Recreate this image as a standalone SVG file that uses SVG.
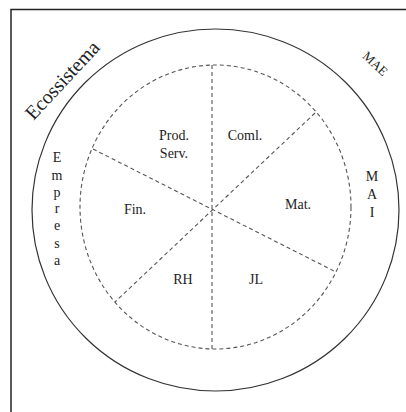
<svg xmlns="http://www.w3.org/2000/svg" width="406" height="412" viewBox="0 0 406 412">
<style>
text{font-family:'Liberation Serif','Times New Roman','DejaVu Serif',serif;fill:#222;}
.lbl{font-size:14px;text-anchor:middle;}
.dash{fill:none;stroke:#555;stroke-width:1.1;stroke-dasharray:4 3;}
</style>
<rect x="0" y="0" width="406" height="412" fill="#fff"/>
<path d="M11 412 V9.5 H406" fill="none" stroke="#222" stroke-width="1.5"/>
<g id="ecossistema">
<ellipse cx="215.5" cy="210" rx="183.5" ry="181" fill="none" stroke="#333" stroke-width="1.2"/>
<text x="62" y="87" font-size="20" text-anchor="middle" transform="rotate(-47 62 80)">Ecossistema</text>
</g>
<g id="empresa">
<ellipse class="dash" cx="215.5" cy="207" rx="135.5" ry="142"/>
<text class="lbl" x="57" y="162">E</text>
<text class="lbl" x="57" y="180">m</text>
<text class="lbl" x="57" y="197">p</text>
<text class="lbl" x="57" y="213">r</text>
<text class="lbl" x="57" y="230">e</text>
<text class="lbl" x="57" y="248">s</text>
<text class="lbl" x="57" y="265">a</text>
</g>
<g id="connectors">
<line class="dash" x1="212" y1="65" x2="212" y2="349"/>
<line class="dash" x1="93" y1="149" x2="336" y2="272"/>
<line class="dash" x1="315" y1="113" x2="115" y2="302"/>
</g>
<g id="mae"><text x="375" y="68" font-size="13" text-anchor="middle" transform="rotate(43 375 64)">MAE</text></g>
<g id="mai">
<text class="lbl" x="372" y="181">M</text>
<text class="lbl" x="372" y="199">A</text>
<text class="lbl" x="372" y="217">I</text>
</g>
<g id="prod"><text class="lbl" x="174" y="140">Prod.</text><text class="lbl" x="174" y="158">Serv.</text></g>
<g id="coml"><text class="lbl" x="245" y="140">Coml.</text></g>
<g id="mat"><text class="lbl" x="298" y="209">Mat.</text></g>
<g id="fin"><text class="lbl" x="135" y="214">Fin.</text></g>
<g id="rh"><text class="lbl" x="183" y="284">RH</text></g>
<g id="jl"><text class="lbl" x="256" y="284">JL</text></g>
</svg>
